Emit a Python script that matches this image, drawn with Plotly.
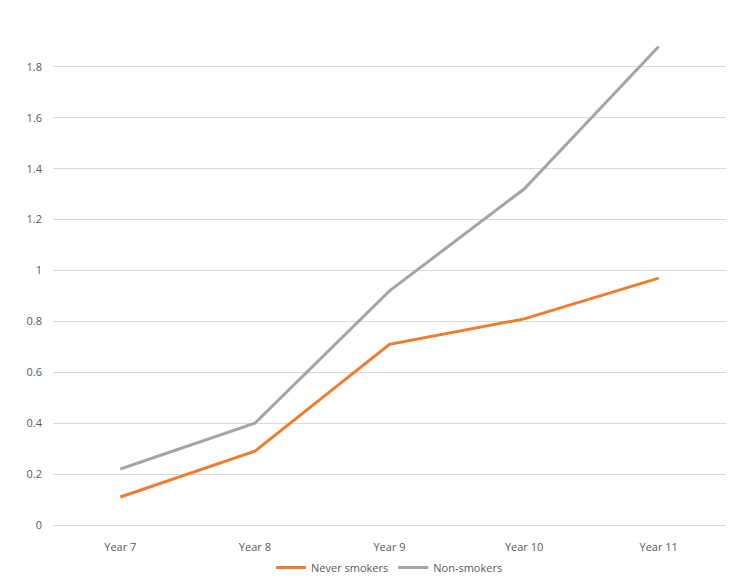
import plotly.graph_objects as go

categories = ["Year 7", "Year 8", "Year 9", "Year 10", "Year 11"]
never_smokers = [0.11, 0.29, 0.71, 0.81, 0.97]
non_smokers = [0.22, 0.40, 0.92, 1.32, 1.88]

fig = go.Figure()
fig.add_trace(go.Scatter(x=categories, y=never_smokers, mode="lines", name="Never smokers",
                         line=dict(color="#ED7D31", width=3)))
fig.add_trace(go.Scatter(x=categories, y=non_smokers, mode="lines", name="Non-smokers",
                         line=dict(color="#A5A5A5", width=3)))
fig.update_layout(
    width=738, height=587, plot_bgcolor="white", paper_bgcolor="white",
    margin=dict(l=45, r=20, t=8, b=70),
    font=dict(family="Open Sans", size=11, color="#595959"),
    legend=dict(orientation="h", x=0.5, xanchor="center", y=-0.055, yanchor="top"),
    xaxis=dict(showgrid=False, showline=True, linecolor="#D9D9D9", ticks="",
               range=[-0.5, 4.5], ticklabelstandoff=12),
    yaxis=dict(range=[0, 2], dtick=0.2, showgrid=True, gridcolor="#D9D9D9",
               zeroline=False, tickformat="~g", ticks="", ticklabelstandoff=10),
)
fig.write_html("out.html")
